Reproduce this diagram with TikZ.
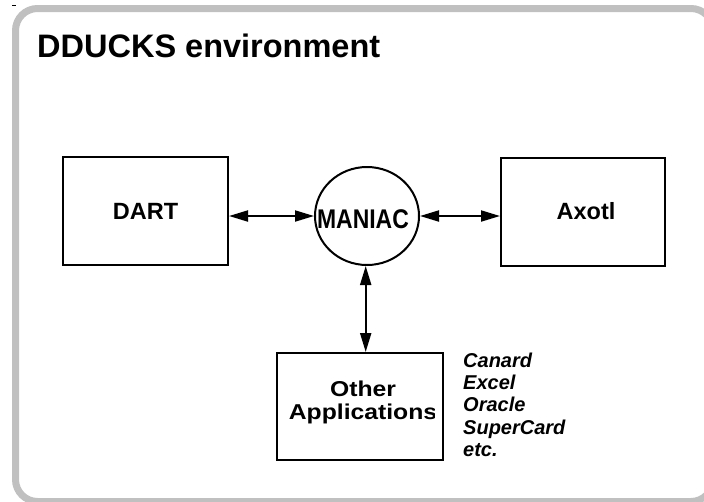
\documentclass[tikz,border=0pt]{standalone}
\usepackage{fontspec}
\setmainfont{Liberation Sans}
\usetikzlibrary{arrows.meta,shapes.geometric}
\definecolor{framegray}{HTML}{C0C0C0}
\begin{document}
\begin{tikzpicture}[x=1pt,y=-1pt,
  boxnode/.style={draw,line width=2pt,minimum width=165pt,minimum height=108pt,inner sep=0pt,font=\bfseries\fontsize{23.5}{26}\selectfont,align=center},
  link/.style={line width=2pt,{Triangle[length=19pt,width=11pt]}-{Triangle[length=19pt,width=11pt]}},
  listtext/.style={font=\bfseries\itshape\fontsize{20}{22.4}\selectfont,align=left,anchor=north west,inner sep=0pt}]
\useasboundingbox (0,0) rectangle (704,501);
\fill[white] (0,0) rectangle (704,501);
\draw[framegray,line width=7pt,rounded corners=22pt] (15.5,8.5) rectangle (713,501.5);
\draw[line width=0.8pt] (12,5) -- (16,5);
\node[anchor=base west,inner sep=0pt,font=\bfseries\fontsize{32.5}{36}\selectfont] (title) at (37,57) {DDUCKS environment};
\node[boxnode] (dart) at (145.5,211) {\raisebox{-3pt}{DART}};
\node[boxnode,minimum width=164pt] (axotl) at (583,211.5) {\hspace*{6pt}\raisebox{-3pt}{Axotl}};
\node[draw,ellipse,line width=2pt,minimum width=104pt,minimum height=98pt,inner sep=0pt] (maniac) at (367,216) {};
\node[inner sep=0pt,font=\bfseries\fontsize{27}{30}\selectfont] (maniaclabel) at (363,219) {\scalebox{0.85}[1]{MANIAC}};
\node[draw,line width=2pt,minimum width=166pt,minimum height=107pt,inner sep=0pt] (other) at (360,406.5) {};
\begin{scope}
  \clip (other.south west) rectangle ([xshift=-10pt]other.north east);
  \node[font=\bfseries\fontsize{21.5}{23}\selectfont,align=center,inner sep=0pt] (othertext) at (363,402) {\scalebox{1.15}[1]{Other}\\\scalebox{1.15}[1]{Applications}};
\end{scope}
\draw[link] (dart.east |- maniac.center) -- (maniac.west);
\draw[link] (maniac.east) -- (axotl.west |- maniac.center);
\draw[link] (maniac.south -| 365.7,0) -- (other.north -| 365.7,0);
\node[listtext] (list) at (463,352.5) {Canard\\Excel\\Oracle\\SuperCard\\etc.};
\end{tikzpicture}
\end{document}
